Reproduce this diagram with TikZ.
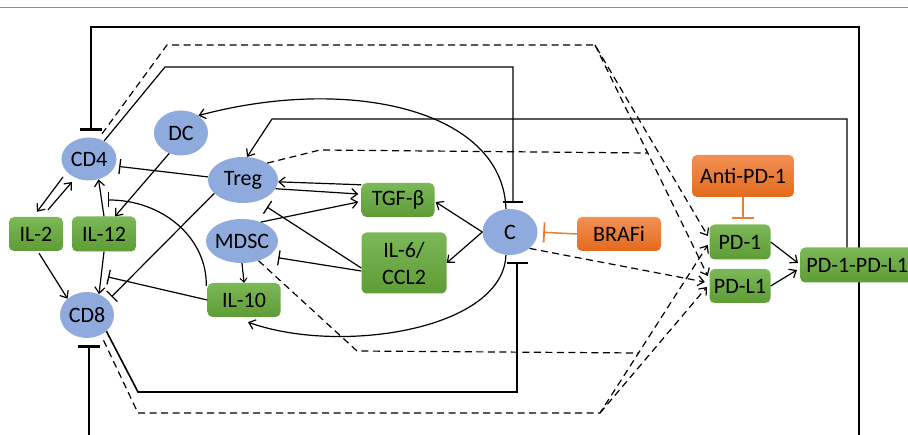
\documentclass[tikz,border=0pt]{standalone}
\usepackage{fontspec}
\setmainfont{Carlito}
\usetikzlibrary{arrows.meta,shapes.geometric,calc,backgrounds}
\definecolor{cellblue}{HTML}{8FAADC}
\definecolor{gtop}{HTML}{7CB857}
\definecolor{gbot}{HTML}{5E9C35}
\definecolor{otop}{HTML}{F29155}
\definecolor{obot}{HTML}{E36A1B}
\definecolor{inhor}{HTML}{ED7D31}
\definecolor{rulegray}{HTML}{909090}
\begin{document}
\begin{tikzpicture}[x=1pt,y=-1pt,
  font=\fontsize{22}{27}\selectfont,
  cell/.style={ellipse, fill=cellblue, draw=none, inner sep=0pt},
  mol/.style={rectangle, rounded corners=5pt, top color=gtop, bottom color=gbot, draw=none, inner sep=0pt},
  drug/.style={rectangle, rounded corners=5pt, top color=otop, bottom color=obot, draw=none, inner sep=0pt},
  ln/.style={line width=1.2pt, black},
  act/.style={ln, -{Straight Barb[length=6pt,width=10pt,line width=1.2pt]}},
  inh/.style={ln, -{Bar[width=15pt,line width=1.3pt]}},
  dsh/.style={dash pattern=on 7pt off 4.5pt},
]
\useasboundingbox (0,0) rectangle (908,435);
\clip (0,0) rectangle (908,435);

% top rule
\draw[rulegray, line width=1.5pt] (0,7.5) -- (908,7.5);

% nodes
\node[cell, minimum width=55pt, minimum height=43pt] (CD4) at (89,159) {CD4};
\node[cell, minimum width=54pt, minimum height=45pt] (DC) at (181,133) {DC};
\node[cell, minimum width=70pt, minimum height=46pt] (Treg) at (243,180) {Treg};
\node[cell, minimum width=72pt, minimum height=44pt, inner xsep=-2pt] (MDSC) at (242,241) {MDSC};
\node[cell, minimum width=55pt, minimum height=46pt] (C) at (510,232) {C};
\node[cell, minimum width=54pt, minimum height=46pt] (CD8) at (87,315) {CD8};
\node[mol, minimum width=54pt, minimum height=34pt] (IL2) at (36,234) {IL-2};
\node[mol, minimum width=64pt, minimum height=35pt] (IL12) at (104,234) {IL-12};
\node[mol, minimum width=73pt, minimum height=34pt] (IL10) at (244,300) {IL-10};
\node[mol, minimum width=73pt, minimum height=34pt] (TGF) at (398,200) {TGF-β};
\node[mol, minimum width=85pt, minimum height=61pt, align=center] (IL6) at (404,263) {IL-6/\\CCL2};
\node[drug, minimum width=84pt, minimum height=34pt] (BRAF) at (619,234) {BRAFi};
\node[drug, minimum width=102pt, minimum height=42pt] (APD) at (743,176) {Anti-PD-1};
\node[mol, minimum width=61pt, minimum height=35pt] (PD1) at (740,242) {PD-1};
\node[mol, minimum width=61pt, minimum height=34pt] (PDL1) at (740,286) {PD-L1};
\node[mol, minimum width=114pt, minimum height=35pt, anchor=west] (PDC) at (800,265) {PD-1-PD-L1};

% free ends
\coordinate (bR) at (859,440);
\coordinate (tL) at (91,27);
\coordinate (b8) at (89,440);
\coordinate (k4) at (108,200);
\coordinate (k8) at (108,277);
\coordinate (up) at (595,45);
\coordinate (lo) at (600,413);

% outer inhibitory line (behind PD-1-PD-L1)
\begin{pgfonlayer}{background}
\clip (0,0) rectangle (908,435);
\draw[ln, line width=1.5pt, -{Bar[width=22pt,line width=3pt]}, shorten >=6pt]
  (bR) -- (859,27) -- (tL) -- (tL |- CD4.north);
\end{pgfonlayer}
\draw[ln, line width=1.5pt, -{Bar[width=22pt,line width=3pt]}, shorten >=7pt]
  (b8) -- (b8 |- CD8.south);

% PD-1-PD-L1 -> Treg
\draw[act] ($(PDC.north west)+(47,0)$) |- (272,119) -- (Treg.80);
% CD4 -| C
\draw[ln, -{Bar[width=20pt,line width=1.5pt]}, shorten >=6pt]
  (CD4.50) -- (165,67) -| ($(C.north)+(3,0)$);
% CD8 -| C
\draw[ln, line width=1.6pt, -{Bar[width=21pt,line width=2.2pt]}, shorten >=7pt]
  (CD8.-40) -- (138,392) -| ($(C.south)+(7,0)$);

% dashed connectors to PD-1 / PD-L1
\draw[act, dsh, shorten <=6pt] (CD4.65) -- (167,45) -- (up) -- ($(PD1.west)+(-1.5,-6)$);
\draw[act, dsh] (up) -- ($(PDL1.west)+(-1.5,-10)$);
\draw[act, dsh, shorten <=6pt] (CD8.-55) -- (138,413) -- (lo) -- ($(PD1.west)+(-1.5,3)$);
\draw[act, dsh] (lo) -- ($(PDL1.west)+(-2.5,1)$);
\draw[ln, dsh] (Treg.35) -- (320,150) -- (647,153);
\draw[ln, dsh] (MDSC.-50) -- (357,351) -- (639,353);
\draw[act, dsh] (C.-40) -- ($(PDL1.west)+(-4.5,-4)$);

% C connections
\draw[act] (C.100) .. controls (503,110) and (350,75) .. (DC.45);
\draw[act] (C.-100) .. controls (503,330) and (340,355) .. ($(IL10.south)+(4,5)$);
\draw[act] (C.west) -- ($(TGF.east)+(1,2)$);
\draw[act] (C.west) -- (IL6.east);

% drugs
\draw[ln, inhor, line width=1.5pt, -{Bar[width=20pt,line width=1.8pt]}, shorten >=5.5pt] (BRAF.west) -- (C.east);
\draw[ln, inhor, line width=1.5pt, -{Bar[width=22pt,line width=1.8pt]}, shorten >=5pt] (APD.south) -- (APD.south |- PD1.north);

% PD-1 / PD-L1 -> complex
\draw[act] (PD1.east) -- ($(PDC.west)+(-2,-2)$);
\draw[act] (PDL1.east) -- ($(PDC.west)+(-3,5)$);

% Treg / MDSC / TGF / IL-6
\draw[act] ($(TGF.north west)+(0,2)$) -- (Treg.-3);
\draw[act] (Treg.-15) -- ($(TGF.west)+(-3,-6)$);
\draw[act] (MDSC.45) -- ($(TGF.west)+(-3,2)$);
\draw[inh, shorten >=11pt] ($(IL6.west)+(0,5)$) -- (Treg.-55);
\draw[inh, shorten >=10pt] ($(IL6.west)+(0,8)$) -- (MDSC.-30);
\draw[act, -{Straight Barb[length=4pt,width=7pt,line width=1pt]}] (MDSC.south) -- (IL10.north);

% left cluster
\draw[inh, shorten >=4pt] (Treg.175) -- (CD4.-15);
\draw[inh, shorten >=5pt] (Treg.205) -- (CD8.35);
\draw[act] (DC.240) -- ($(IL12.north)+(11,0)$);
\draw[act] (IL12.north) -- (CD4.-65);
\draw[act] (IL12.south) -- (CD8.60);
\draw[act] ($(CD4)+(-26,18)$) -- ($(IL2.north)+(1,-5)$);
\draw[act] ($(IL2.north)+(12,-7)$) -- ($(CD4)+(-17,23)$);
\draw[act] ($(IL2.south)+(3,2)$) -- (CD8.140);
\draw[inh] ($(IL10.north west)+(-1,3)$) .. controls (207,238) and (163,200) .. (k4);
\draw[inh] (IL10.west) -- (k8);
\end{tikzpicture}
\end{document}
